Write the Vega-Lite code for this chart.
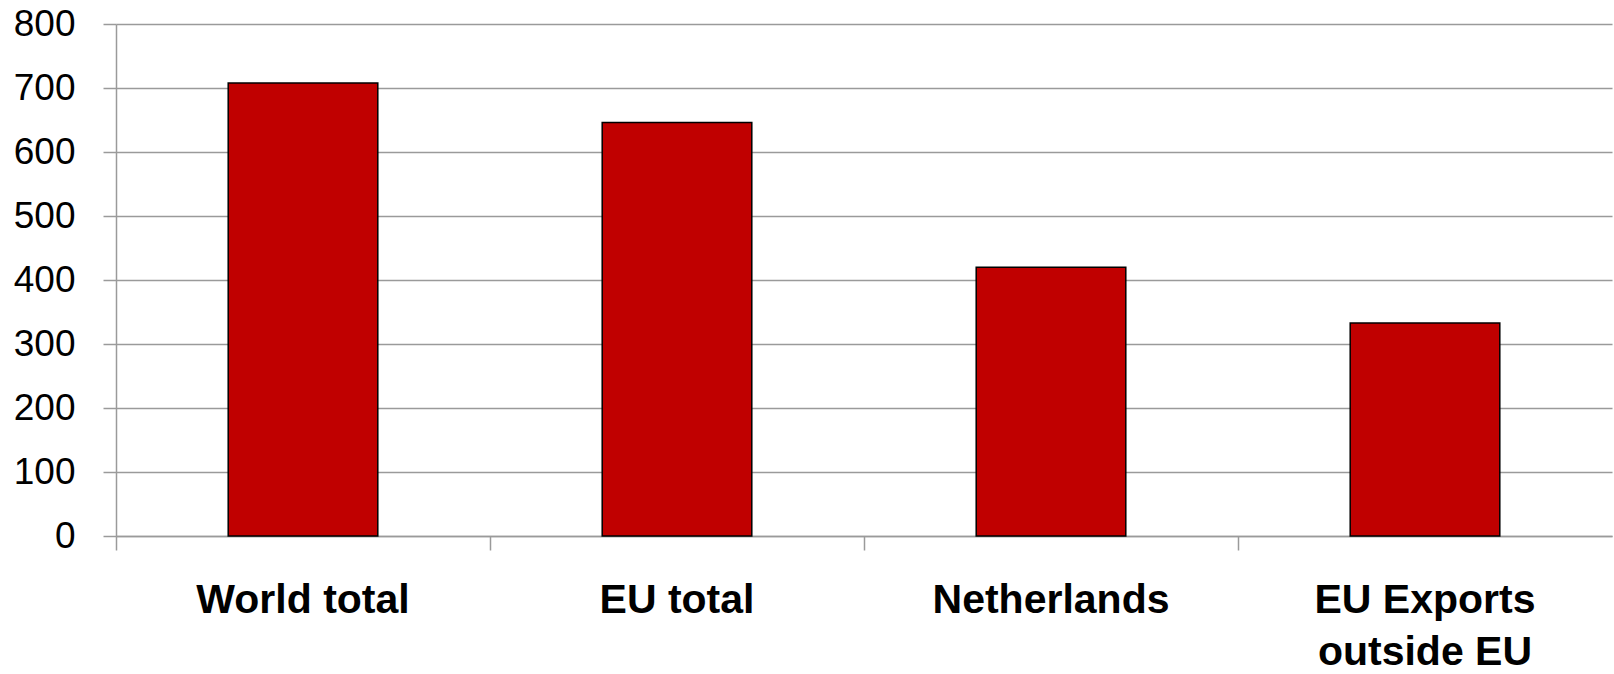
{
  "$schema": "https://vega.github.io/schema/vega-lite/v6.json",
  "width": 1496,
  "height": 512,
  "autosize": {"type": "none"},
  "padding": {"left": 116, "top": 24, "right": 2, "bottom": 138},
  "background": "white",
  "config": {"view": {"stroke": null}},
  "data": {
    "values": [
      {"region": "World total", "value": 708},
      {"region": "EU total", "value": 646},
      {"region": "Netherlands", "value": 420},
      {"region": "EU Exports outside EU", "value": 333}
    ]
  },
  "mark": {"type": "bar", "width": {"band": 0.4}, "color": "#C00000", "stroke": "#000000", "strokeWidth": 1.5},
  "encoding": {
    "x": {
      "field": "region",
      "type": "nominal",
      "sort": null,
      "scale": {"paddingInner": 0, "paddingOuter": 0},
      "axis": {
        "title": null,
        "labelAngle": 0,
        "bandPosition": 0,
        "domainColor": "#9a9a9a",
        "domainWidth": 1.5,
        "tickColor": "#9a9a9a",
        "tickWidth": 1.5,
        "tickSize": 14,
        "labelPadding": 30,
        "labelFont": "Liberation Sans",
        "labelFontSize": 41,
        "labelFontWeight": "bold",
        "labelColor": "#000000",
        "labelLineHeight": 52,
        "labelLimit": 500,
        "labelExpr": "datum.label == 'EU Exports outside EU' ? ['EU Exports', 'outside EU'] : datum.label",
        "grid": false
      }
    },
    "y": {
      "field": "value",
      "type": "quantitative",
      "scale": {"domain": [0, 800], "nice": false},
      "axis": {
        "title": null,
        "values": [0, 100, 200, 300, 400, 500, 600, 700, 800],
        "grid": true,
        "gridColor": "#9a9a9a",
        "gridWidth": 1.5,
        "domainColor": "#9a9a9a",
        "domainWidth": 1.5,
        "tickColor": "#9a9a9a",
        "tickWidth": 1.5,
        "tickSize": 13,
        "labelPadding": 28,
        "labelFont": "Liberation Sans",
        "labelFontSize": 37,
        "labelColor": "#000000"
      }
    }
  }
}
